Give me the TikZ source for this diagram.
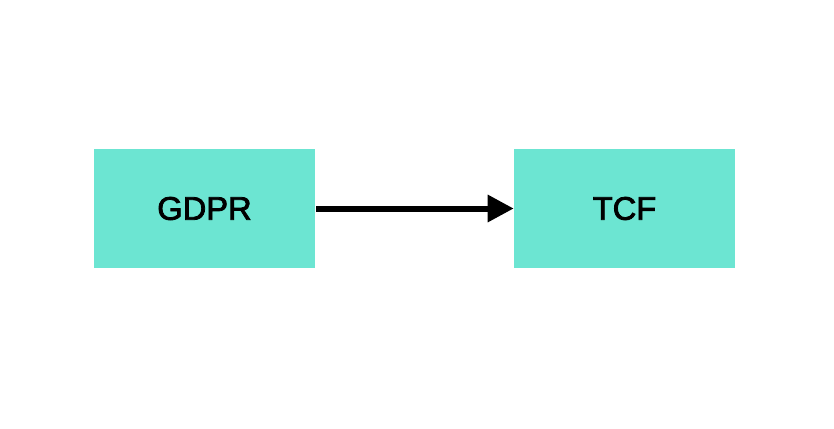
\documentclass[tikz,border=0pt]{standalone}
\usepackage{fontspec}
\setmainfont{Liberation Sans}
\newfontfamily\stagefont{Liberation Sans}[RawFeature={embolden=2.4}]
\usetikzlibrary{arrows.meta}
\definecolor{boxfill}{HTML}{6CE5D2}
\tikzset{
  stage/.style={fill=boxfill, draw=none, inner sep=0pt,
    minimum width=165.75pt, minimum height=89.25pt,
    font=\stagefont\fontsize{24.5pt}{28pt}\selectfont},
  flow/.style={line width=4.5pt, -{Triangle[length=19.5pt,width=19.5pt]}}
}
\begin{document}
\begin{tikzpicture}[x=0.75pt,y=-0.75pt]
	\useasboundingbox (0,0) rectangle (834,428);
	\node[stage] (GDPR) at (204.5,208.5) {GDPR};
	\node[stage] (TCF) at (624.5,208.5) {TCF};

	\path [flow] (GDPR.east) ++(1,0) coordinate (s) edge (TCF.west);
\end{tikzpicture}
\end{document}
